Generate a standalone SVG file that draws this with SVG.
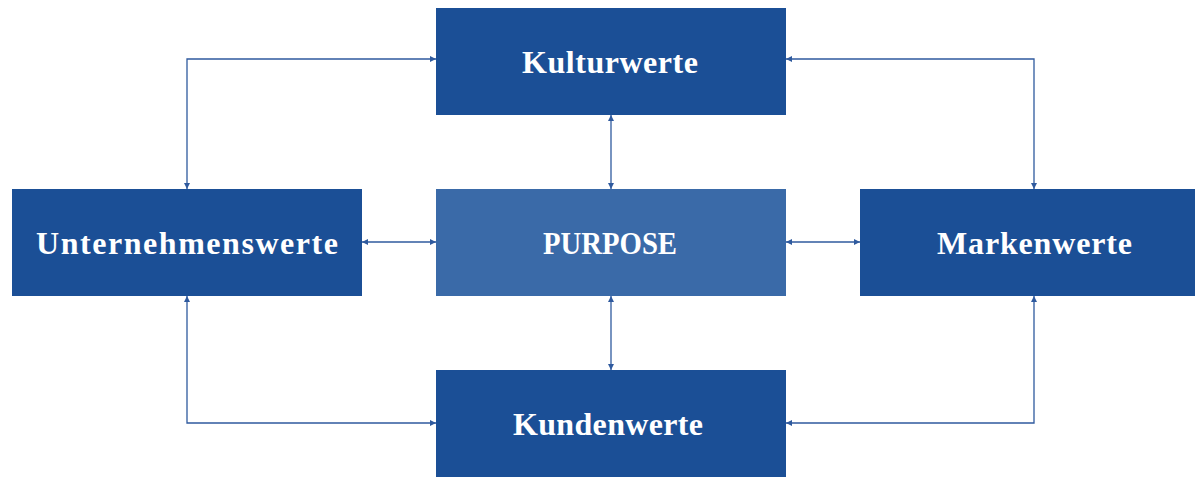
<svg xmlns="http://www.w3.org/2000/svg" width="1195" height="478" viewBox="0 0 1195 478">
<style>
.box{fill:#1b4f96}
.mid{fill:#3a6aa8}
.lbl{font-family:"Liberation Serif",serif;font-weight:bold;font-size:32px;fill:#ffffff;text-anchor:middle}
.con{fill:none;stroke:#2f5a9e;stroke-width:1.3}
</style>
<defs>
<marker id="ah" viewBox="0 0 8 8" refX="8" refY="4" markerWidth="6" markerHeight="6" markerUnits="userSpaceOnUse" orient="auto-start-reverse">
<path d="M0,0 L8,4 L0,8 Z" fill="#2f5a9e"/>
</marker>
</defs>
<rect width="1195" height="478" fill="#ffffff"/>
<g id="connectors">
<path class="con" d="M187,189 V59 H436" marker-start="url(#ah)" marker-end="url(#ah)"/>
<path class="con" d="M1034,189 V59 H786" marker-start="url(#ah)" marker-end="url(#ah)"/>
<path class="con" d="M187,296 V423 H436" marker-start="url(#ah)" marker-end="url(#ah)"/>
<path class="con" d="M1034,296 V423 H786" marker-start="url(#ah)" marker-end="url(#ah)"/>
<path class="con" d="M611,115 V189" marker-start="url(#ah)" marker-end="url(#ah)"/>
<path class="con" d="M611,296 V370" marker-start="url(#ah)" marker-end="url(#ah)"/>
<path class="con" d="M362,242 H436" marker-start="url(#ah)" marker-end="url(#ah)"/>
<path class="con" d="M786,242 H860" marker-start="url(#ah)" marker-end="url(#ah)"/>
</g>
<g id="kulturwerte">
<rect class="box" x="436" y="8" width="350" height="107"/>
<text class="lbl" x="610" y="73" textLength="176" lengthAdjust="spacing">Kulturwerte</text>
</g>
<g id="unternehmenswerte">
<rect class="box" x="12" y="189" width="350" height="107"/>
<text class="lbl" x="187" y="254" textLength="302" lengthAdjust="spacing">Unternehmenswerte</text>
</g>
<g id="purpose">
<rect class="mid" x="436" y="189" width="350" height="107"/>
<text class="lbl" x="610" y="254" font-size="29" textLength="134" lengthAdjust="spacingAndGlyphs">PURPOSE</text>
</g>
<g id="markenwerte">
<rect class="box" x="860" y="189" width="350" height="107"/>
<text class="lbl" x="1034.5" y="254" textLength="195" lengthAdjust="spacing">Markenwerte</text>
</g>
<g id="kundenwerte">
<rect class="box" x="436" y="370" width="350" height="107"/>
<text class="lbl" x="608" y="435" textLength="190" lengthAdjust="spacing">Kundenwerte</text>
</g>
</svg>
